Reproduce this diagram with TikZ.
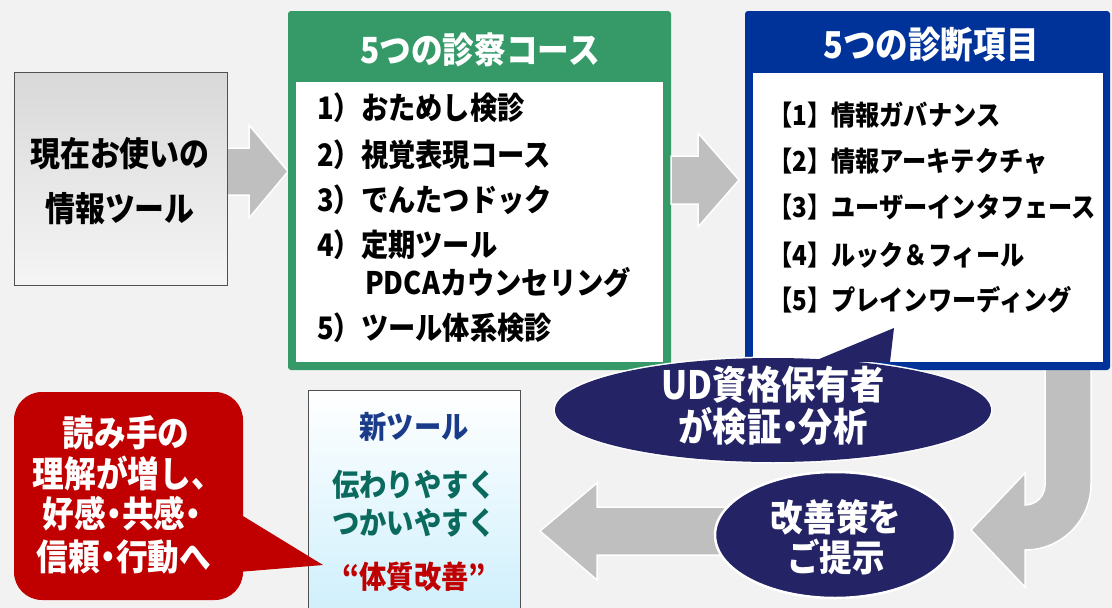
\documentclass[tikz,border=0pt]{standalone}
\usepackage{fontspec}
\setmainfont{Noto Sans CJK JP}[BoldFont={Noto Sans CJK JP Black}, BoldFeatures={FakeStretch=0.88}]
\definecolor{bg}{HTML}{F2F2F2}
\definecolor{grn}{HTML}{359A68}
\definecolor{blu}{HTML}{003399}
\definecolor{navy}{HTML}{232366}
\definecolor{agray}{HTML}{BFBFBF}
\definecolor{redc}{HTML}{C00000}
\definecolor{ntblue}{HTML}{1A3A8A}
\definecolor{tealc}{HTML}{0B6A5E}
\definecolor{boxedge}{HTML}{505050}
\definecolor{lblue}{HTML}{CDEFFC}
\newcommand{\fsz}[1]{\fontsize{#1}{#1}\selectfont\bfseries}
\newcommand{\ndot}{\hspace{-0.22em}・\hspace{-0.22em}}
\begin{document}
\begin{tikzpicture}[x=1pt,y=-1pt,
  arrowshape/.style={fill=agray, draw=white, line width=1.5pt, line join=miter},
  itemtxt/.style={anchor=west, inner sep=0pt, font=\fsz{27.5}},
  gitemtxt/.style={anchor=west, inner sep=0pt, font=\fsz{31}},
  titletxt/.style={inner sep=0pt, text=white, font=\fsz{36}},
  ctxt/.style={inner sep=0pt, font=\fsz{#1}},
]
\useasboundingbox (0,0) rectangle (1112,608);
\fill[bg] (0,0) rectangle (1112,608);

% arrow 1
\path[arrowshape] (227,148) -- (249,148) -- (249,125) -- (288,171.5) -- (249,218) -- (249,195) -- (227,195) -- cycle;
% left box
\node[draw=boxedge, line width=1pt, top color=gray!30, bottom color=gray!8, minimum width=213pt, minimum height=213pt, anchor=north west, inner sep=0pt] (cur) at (14,72) {};
\node[ctxt=34] (cur1) at (120,154) {現在お使いの};
\node[ctxt=34] (cur2) at (120,209) {情報ツール};

% green box
\fill[grn, rounded corners=3pt] (288,11) rectangle (671,370);
\fill[white] (296,82) rectangle (663,362);
\node[titletxt] (gtitle) at (480,50) {5つの診察コース};
\node[gitemtxt] (g1) at (317,108) {1）おためし検診};
\node[gitemtxt] (g2) at (317,155) {2）視覚表現コース};
\node[gitemtxt] (g3) at (317,200) {3）でんたつドック};
\node[gitemtxt] (g4) at (317,245) {4）定期ツール};
\node[gitemtxt] (g4b) at (365,282) {PDCAカウンセリング};
\node[gitemtxt] (g5) at (317,328) {5）ツール体系検診};

% arrow 2
\path[arrowshape] (671,156) -- (698,156) -- (698,133) -- (739,180) -- (698,227) -- (698,204) -- (671,204) -- cycle;

% curved arrow (behind blue box)
\path[arrowshape] (1045,365) -- (1091,365) -- (1091,484)
  .. controls (1091,520.5) and (1061.5,550) .. (1025,550)
  -- (1025,587) -- (971,530) -- (1025,473) -- (1025,505)
  .. controls (1036,505) and (1045,496) .. (1045,485) -- cycle;

% blue box
\fill[blu, rounded corners=3pt] (745,11) rectangle (1110,370);
\fill[white] (753,73) rectangle (1103,362);
\node[titletxt, font=\fsz{37}] (btitle) at (931,45) {5つの診断項目};
\node[itemtxt] (b1) at (768,115) {【1】情報ガバナンス};
\node[itemtxt] (b2) at (768,161) {【2】情報アーキテクチャ};
\node[itemtxt] (b3) at (768,207) {【3】ユーザーインタフェース};
\node[itemtxt] (b4) at (768,255) {【4】ルック＆フィール};
\node[itemtxt] (b5) at (768,300) {【5】プレインワーディング};

% UD bubble
\path[draw=white, line width=3pt] (773,410) ellipse [x radius=218, y radius=52];
\fill[navy] (773,410) ellipse [x radius=218, y radius=52];
\fill[navy] (812,362) -- (894,328) -- (890,362) -- cycle;
\node[ctxt=39, text=white] (ud1) at (773,385) {UD資格保有者};
\node[ctxt=39, text=white] (ud2) at (773,426) {が検証\ndot 分析};

% bottom-left arrow
\path[arrowshape] (760,507) -- (597,507) -- (597,483) -- (540,531) -- (597,580) -- (597,555) -- (760,555) -- cycle;
% ellipse kaizen
\path[fill=navy, draw=white, line width=2.5pt] (835,535) ellipse [x radius=120, y radius=63];
\node[ctxt=37, text=white] (kz1) at (836,517) {改善策を};
\node[ctxt=37, text=white] (kz2) at (836,557) {ご提示};

% new tool box
\node[draw=boxedge, line width=1pt, top color=white, bottom color=lblue, minimum width=212pt, minimum height=230pt, anchor=north west, inner sep=0pt] (newt) at (308,390) {};
\node[ctxt=31, text=ntblue] (nt1) at (414,427) {新ツール};
\node[ctxt=31, text=tealc] (nt2) at (414,485) {伝わりやすく};
\node[ctxt=31, text=tealc] (nt3) at (414,523) {つかいやすく};
\node[ctxt=31, text=redc] (nt4) at (414,577) {“体質改善”};

% red callout
\fill[redc, rounded corners=28pt] (14,392) rectangle (243,600);
\fill[redc] (238,513) -- (323,565) -- (238,572) -- cycle;
\node[ctxt=36, text=white] (r1) at (126,433) {読み手の};
\node[ctxt=36, text=white] (r2) at (128,473) {理解が増し、};
\node[ctxt=36, text=white] (r3) at (126,514) {好感\ndot 共感\ndot};
\node[ctxt=36, text=white] (r4) at (124,557) {信頼\ndot 行動へ};
\end{tikzpicture}
\end{document}
